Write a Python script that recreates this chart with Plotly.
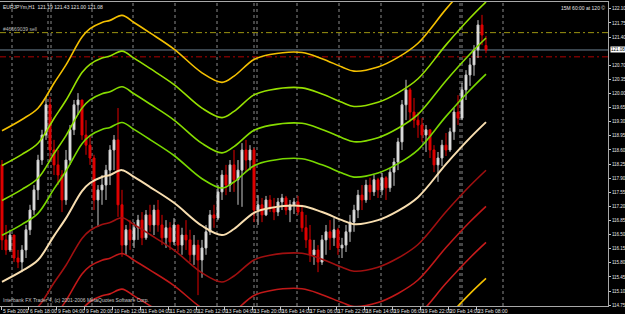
import plotly.graph_objects as go

# ---------------- data (EURJPYm, H1) ----------------
opens = [
    118.23, 116.37, 116.12, 116.49, 115.92, 115.82, 116.12, 116.62, 117.11, 117.61,
    118.35, 118.97, 119.72, 118.60, 118.23, 117.98, 117.36, 118.35, 119.10, 119.72,
    119.84, 118.97, 118.72, 118.40, 117.36, 117.61, 117.73, 118.10, 118.60, 118.85,
    117.24, 116.24, 116.62, 116.37, 116.67, 116.86, 116.42, 116.99, 116.74, 117.11,
    116.74, 116.42, 116.67, 116.32, 116.74, 116.24, 116.49, 116.37, 116.00, 116.24,
    115.87, 116.17, 116.57, 116.99, 116.91, 117.56, 117.98, 117.73, 118.23, 117.86,
    118.10, 118.60, 118.35, 118.60, 117.11, 117.24, 116.99, 117.36, 117.16, 117.06,
    117.31, 117.41, 117.11, 117.24, 117.31, 117.06, 116.67, 116.37, 116.00, 116.12,
    115.82, 116.37, 116.57, 116.42, 116.62, 116.17, 116.24, 116.57, 116.81, 117.11,
    117.48, 117.36, 117.73, 117.56, 117.86, 117.61, 117.91, 117.66, 118.05, 118.30,
    118.80, 119.72, 120.09, 119.54, 119.34, 119.22, 118.97, 119.10, 118.60, 118.23,
    118.40, 118.72, 118.60, 119.05, 119.54, 119.39, 120.09, 120.46, 120.71, 121.08,
    121.70, 121.19,
]
highs = [
    118.35, 116.74, 116.62, 116.49, 116.12, 116.24, 116.74, 117.24, 117.73, 118.48,
    119.10, 119.91, 119.91, 118.85, 118.60, 118.10, 118.60, 119.22, 119.84, 120.01,
    119.84, 119.34, 118.97, 118.48, 117.73, 117.98, 118.23, 118.72, 118.97, 119.64,
    117.61, 116.74, 116.86, 116.81, 116.99, 117.06, 117.11, 117.24, 117.24, 117.36,
    116.99, 116.86, 116.81, 116.91, 116.74, 116.67, 116.86, 116.62, 116.49, 116.37,
    116.37, 116.74, 117.11, 117.24, 117.73, 118.10, 118.23, 118.35, 118.60, 118.35,
    118.77, 118.85, 118.72, 118.65, 117.48, 117.41, 117.46, 117.48, 117.41, 117.41,
    117.51, 117.46, 117.36, 117.41, 117.46, 117.24, 116.99, 116.74, 116.37, 116.24,
    116.49, 116.74, 116.86, 116.91, 116.67, 116.42, 116.74, 116.99, 117.24, 117.61,
    117.73, 117.86, 117.91, 117.98, 117.91, 118.03, 117.95, 118.15, 118.40, 118.90,
    119.84, 120.34, 120.14, 119.89, 119.54, 119.39, 119.22, 119.10, 118.72, 118.55,
    118.85, 119.02, 119.15, 119.64, 119.96, 120.26, 120.58, 120.88, 121.20, 121.82,
    121.95, 121.43,
]
lows = [
    116.12, 116.00, 116.07, 115.82, 115.67, 115.57, 115.92, 116.49, 116.99, 117.36,
    118.23, 118.85, 118.35, 117.98, 117.73, 117.06, 117.24, 118.23, 118.97, 119.47,
    118.85, 118.48, 118.23, 117.11, 116.69, 117.24, 117.36, 117.73, 118.10, 116.94,
    115.95, 116.00, 116.12, 116.17, 116.37, 116.24, 116.37, 116.57, 116.49, 116.57,
    116.24, 116.17, 116.12, 116.24, 116.07, 116.00, 116.12, 115.82, 115.75, 115.00,
    115.43, 116.00, 116.49, 116.67, 116.86, 117.36, 117.48, 117.56, 117.56, 117.24,
    117.19, 118.05, 118.10, 116.81, 116.74, 116.81, 116.96, 117.06, 116.86, 116.96,
    117.11, 116.99, 116.81, 117.01, 116.99, 116.57, 116.17, 115.82, 115.75, 115.57,
    115.75, 116.00, 116.12, 116.22, 116.00, 115.92, 116.07, 116.32, 116.57, 116.91,
    117.11, 117.29, 117.36, 117.46, 117.41, 117.48, 117.36, 117.56, 117.71, 118.10,
    118.60, 119.34, 119.29, 119.15, 118.90, 118.80, 118.55, 118.40, 118.05, 117.81,
    118.20, 118.45, 118.55, 118.85, 119.22, 119.34, 119.84, 120.19, 120.44, 120.88,
    121.20, 121.00,
]
closes = [
    116.37, 116.12, 116.49, 115.92, 115.82, 116.12, 116.62, 117.11, 117.61, 118.35,
    118.97, 119.72, 118.60, 118.23, 117.98, 117.36, 118.35, 119.10, 119.72, 119.84,
    118.97, 118.72, 118.40, 117.36, 117.61, 117.73, 118.10, 118.60, 118.85, 117.24,
    116.24, 116.62, 116.37, 116.67, 116.86, 116.42, 116.99, 116.74, 117.11, 116.74,
    116.42, 116.67, 116.32, 116.74, 116.24, 116.49, 116.37, 116.00, 116.24, 115.87,
    116.17, 116.57, 116.99, 116.91, 117.56, 117.98, 117.73, 118.23, 117.86, 118.10,
    118.60, 118.35, 118.60, 117.11, 117.24, 116.99, 117.36, 117.16, 117.06, 117.31,
    117.41, 117.11, 117.24, 117.31, 117.06, 116.67, 116.37, 116.00, 116.12, 115.82,
    116.37, 116.57, 116.42, 116.62, 116.17, 116.24, 116.57, 116.81, 117.11, 117.48,
    117.36, 117.73, 117.56, 117.86, 117.61, 117.91, 117.66, 118.05, 118.30, 118.80,
    119.72, 120.09, 119.54, 119.34, 119.22, 118.97, 119.10, 118.60, 118.23, 118.40,
    118.72, 118.60, 119.05, 119.54, 119.39, 120.09, 120.46, 120.71, 121.08, 121.70,
    121.45, 121.08,
]

# centre moving average (cream line), sampled at bar positions
ma_bars = [0, 5, 9, 13, 16, 20, 22, 25, 27, 30, 33, 37, 43, 50, 55, 58, 63, 67,
           75, 80, 85, 88, 94, 99, 104, 111, 117, 121]
ma_values = [115.33, 115.60, 115.87, 116.47, 116.91, 117.58, 117.78, 117.93, 117.98,
             118.10, 117.93, 117.68, 117.29, 116.72, 116.49, 116.64, 117.04, 117.16,
             117.21, 117.06, 116.86, 116.76, 116.86, 117.09, 117.43, 118.25, 118.90,
             119.29]

# envelope percentages around the centre line
envelope_pcts = [1.0, 1.75, 2.5, 3.25]

# horizontal price lines
bid_price = 121.08
order_price = 121.51
stop_price = 120.91

# price axis ticks
y_tick_text = ["122.10", "121.75", "121.40", "120.70", "120.35", "120.00", "119.65",
               "119.30", "118.95", "118.60", "118.25", "117.90", "117.55", "117.20",
               "116.85", "116.50", "116.15", "115.80", "115.45", "115.10", "114.75"]

# time axis (bar positions) and period separators
date_tick_bars = [-0.25, 6.5, 13.5, 20.5, 27.5, 34.5, 41.5, 48.5, 55.5, 62.5, 69.5,
                  76.5, 83.5, 90.5, 97.5, 104.5, 111.5, 118.5]
date_labels = ["5 Feb 2009", "6 Feb 18:00", "9 Feb 04:00", "9 Feb 20:00",
               "10 Feb 12:00", "11 Feb 04:00", "11 Feb 20:00", "12 Feb 12:00",
               "13 Feb 04:00", "13 Feb 20:00", "16 Feb 14:00", "17 Feb 06:00",
               "17 Feb 22:00", "18 Feb 14:00", "19 Feb 06:00", "19 Feb 22:00",
               "20 Feb 14:00", "23 Feb 08:00"]
separator_bars = [2.5, 11.5, 12.25, 22.5, 32.75, 43.25, 53.75, 63, 63.75, 73.75,
                  84.25, 94.75, 105.25, 114.5, 115, 125.25]

# ---------------- styling ----------------
FONT = "Liberation Sans Narrow, Liberation Sans, Arial"
FS = 5
upper_colors = ["#78D800", "#86DC00", "#96E000", "#F4C000"]
lower_colors = ["#A01010", "#C01818", "#C81C1C", "#F4C000"]

bars = list(range(len(closes)))

fig = go.Figure()

fig.add_trace(go.Candlestick(
    x=bars, open=opens, high=highs, low=lows, close=closes,
    increasing=dict(line=dict(color="#C8C8C8", width=1), fillcolor="#F0F0F0"),
    decreasing=dict(line=dict(color="#E00000", width=1), fillcolor="#E00000"),
    whiskerwidth=0, hoverinfo="skip",
))

for pct, col in zip(envelope_pcts, upper_colors):
    fig.add_trace(go.Scatter(
        x=ma_bars, y=[v * (1 + pct / 100) for v in ma_values], mode="lines",
        line=dict(color=col, width=1.6, shape="spline", smoothing=1.0),
        hoverinfo="skip"))
for pct, col in zip(envelope_pcts, lower_colors):
    fig.add_trace(go.Scatter(
        x=ma_bars, y=[v * (1 - pct / 100) for v in ma_values], mode="lines",
        line=dict(color=col, width=1.6, shape="spline", smoothing=1.0),
        hoverinfo="skip"))
fig.add_trace(go.Scatter(
    x=ma_bars, y=ma_values, mode="lines",
    line=dict(color="#F8DEB0", width=2, shape="spline", smoothing=1.0),
    hoverinfo="skip"))

shapes = []
for sb in separator_bars:
    shapes.append(dict(type="line", xref="x", yref="paper", x0=sb, x1=sb, y0=0, y1=1,
                       line=dict(color="#8A8A8A", width=1, dash="dot"), layer="below"))
shapes.append(dict(type="line", xref="paper", yref="y", x0=0, x1=1, y0=bid_price,
                   y1=bid_price, line=dict(color="#6F8294", width=1), layer="below"))
shapes.append(dict(type="line", xref="paper", yref="y", x0=0, x1=1, y0=order_price,
                   y1=order_price, line=dict(color="#9C9410", width=1,
                                             dash="6px,3px,2px,3px"), layer="below"))
shapes.append(dict(type="line", xref="paper", yref="y", x0=0, x1=1, y0=stop_price,
                   y1=stop_price, line=dict(color="#B00000", width=1,
                                            dash="6px,3px,2px,3px"), layer="below"))

small = dict(family=FONT, size=FS, color="#E6E6E6")
axis_font = dict(family=FONT, size=4.5, color="#E6E6E6")
annotations = []
for pos, lab in zip(date_tick_bars, date_labels):
    annotations.append(dict(x=pos, y=0, xref="x", yref="paper", text=lab,
                            showarrow=False, xanchor="left", yanchor="top",
                            xshift=1, yshift=-0.5, borderpad=0, font=small))
annotations += [
    dict(x=0, y=1, xref="paper", yref="paper", text="EURJPYm,H1  121.19 121.43 121.00 121.08",
         showarrow=False, xanchor="left", yanchor="top", xshift=2, yshift=-1,
         borderpad=0, font=small),
    dict(x=0, y=order_price, xref="paper", yref="y", text="#46669039 sell",
         showarrow=False, xanchor="left", yanchor="bottom", xshift=2, yshift=0,
         borderpad=0, font=dict(family=FONT, size=FS, color="#B8B8B8")),
    dict(x=1, y=1, xref="paper", yref="paper", text="15M 60:00 at 120 ©",
         showarrow=False, xanchor="right", yanchor="top", xshift=-2, yshift=-2,
         borderpad=0, font=small),
    dict(x=0, y=0, xref="paper", yref="paper",
         text="Interbank FX Trader 4, (c) 2001-2006 MetaQuotes Software Corp.",
         showarrow=False, xanchor="left", yanchor="bottom", xshift=2, yshift=2,
         borderpad=0, font=dict(family=FONT, size=FS, color="#C8C8C8")),
    dict(x=1, y=bid_price, xref="paper", yref="y", text="121.08",
         showarrow=False, xanchor="left", yanchor="middle", xshift=2,
         bgcolor="#FFFFFF", borderpad=0,
         font=dict(family=FONT, size=4.5, color="#000000")),
]

fig.update_layout(
    width=625, height=314,
    margin=dict(l=0, r=17, t=2, b=8, pad=0),
    paper_bgcolor="#000000", plot_bgcolor="#000000",
    showlegend=False,
    shapes=shapes, annotations=annotations,
    xaxis=dict(range=[-0.5, 151.5], showgrid=False, zeroline=False,
               showline=True, mirror=True, linecolor="#A8A8A8", linewidth=1,
               tickmode="array", tickvals=date_tick_bars,
               ticktext=[""] * len(date_tick_bars), ticks="outside", ticklen=3,
               tickcolor="#C8C8C8", rangeslider=dict(visible=False),
               automargin=False, fixedrange=True),
    yaxis=dict(range=[114.73, 122.27], side="right", showgrid=False, zeroline=False,
               showline=True, mirror=True, linecolor="#A8A8A8", linewidth=1,
               tickmode="array", tickvals=[float(t) for t in y_tick_text],
               ticktext=y_tick_text, ticks="outside", ticklen=2, tickcolor="#C8C8C8",
               ticklabelstandoff=0,
               tickfont=axis_font, automargin=False, fixedrange=True),
)

fig.write_html("out.html")
